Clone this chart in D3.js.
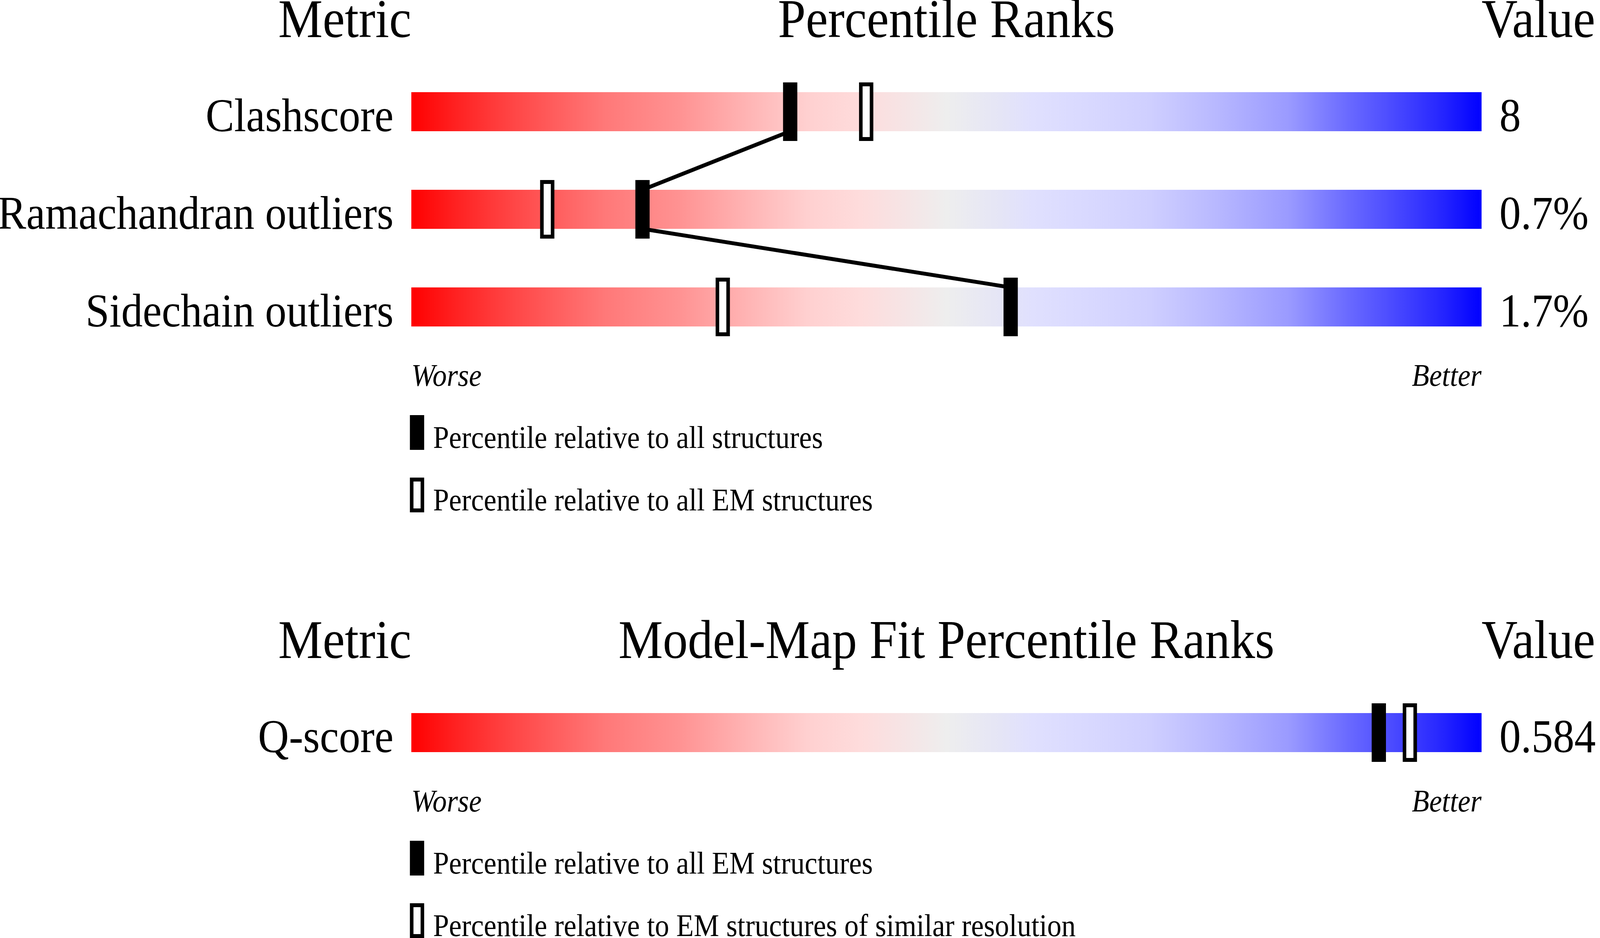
<!DOCTYPE html>
<html>
<head>
<meta charset="utf-8">
<script src="https://cdn.jsdelivr.net/npm/d3@7"></script>
<style>
  html, body { margin: 0; padding: 0; background: #fff; overflow: hidden; }
  svg { display: block; width: 100vw; height: 100vh; }
  text { font-family: "Liberation Serif", "Times New Roman", serif; fill: #000; }
</style>
</head>
<body>
<svg id="chart" viewBox="0 0 4485 2402" preserveAspectRatio="none"></svg>
<script>
// Percentile ranks panel
const metrics = ['Clashscore', 'Ramachandran outliers', 'Sidechain outliers'];
const metricValues = ['8', '0.7%', '1.7%'];
const pctAll = [35.4, 21.6, 56.0];
const pctEM = [42.5, 12.7, 29.1];
const legendLabels = ['Percentile relative to all structures', 'Percentile relative to all EM structures'];

// Model-map fit panel
const fitMetrics = ['Q-score'];
const fitValues = ['0.584'];
const fitPctAll = [90.4];
const fitPctRes = [93.3];
const fitLegendLabels = ['Percentile relative to all EM structures', 'Percentile relative to EM structures of similar resolution'];

// gradient stops for the slider bar (offset, colour)
const gradStops = [
    [0.00, '#ff0000'], [0.04, '#ff2020'], [0.08, '#ff3c3c'], [0.125, '#ff5858'],
    [0.18, '#ff7878'], [0.25, '#ff9292'], [0.31, '#ffb2b2'], [0.37, '#ffd0d0'],
    [0.42, '#fedcdc'], [0.46, '#f6e4e5'], [0.50, '#eeeeee'], [0.55, '#e5e5f6'],
    [0.58, '#e0e0fe'], [0.63, '#d9d9ff'], [0.69, '#cfcfff'], [0.75, '#b9b9ff'],
    [0.82, '#9a9aff'], [0.875, '#6a6aff'], [0.92, '#4848ff'], [0.96, '#2828ff'],
    [1.00, '#0000ff']
];

const svg = d3.select('#chart');
svg.append('rect').attr('width', 4485).attr('height', 2402).attr('fill', '#fff');

const grad = svg.append('defs').append('linearGradient')
    .attr('id', 'slider')
    .attr('x1', '0%').attr('x2', '100%').attr('y1', '0%').attr('y2', '0%');
grad.selectAll('stop')
    .data(gradStops)
    .join('stop')
    .attr('offset', d => d[0])
    .attr('stop-color', d => d[1]);

const x = d3.scaleLinear().domain([0, 100]).range([1153, 4153]);
const barH = 100;
const rowStep = 250;

function drawPanel(top, title, names, values, pA, pB, legend, connect) {
    const g = svg.append('g').attr('transform', `translate(0, ${top})`);
    const y = i => 236 + rowStep * i;

    // headers
    g.append('text').attr('x', x(0)).attr('y', 95)
        .attr('text-anchor', 'end').attr('font-size', 140).text('Metric');
    g.append('text').attr('x', (x(0) + x(100)) / 2).attr('y', 95)
        .attr('text-anchor', 'middle').attr('font-size', 140).text(title);
    g.append('text').attr('x', x(100)).attr('y', 95)
        .attr('text-anchor', 'start').attr('font-size', 140).text('Value');

    // bars
    g.selectAll('.bar')
        .data(names)
        .join('rect')
        .attr('class', 'bar')
        .attr('x', x(0))
        .attr('y', (d, i) => y(i))
        .attr('width', x(100) - x(0))
        .attr('height', barH)
        .attr('fill', 'url(#slider)');

    g.selectAll('.name')
        .data(names)
        .join('text')
        .attr('class', 'name')
        .attr('x', x(0) - 50)
        .attr('y', (d, i) => y(i) + barH)
        .attr('text-anchor', 'end')
        .attr('font-size', 120)
        .text(d => d);

    g.selectAll('.val')
        .data(values)
        .join('text')
        .attr('class', 'val')
        .attr('x', x(100) + 50)
        .attr('y', (d, i) => y(i) + barH)
        .attr('font-size', 120)
        .text(d => d);

    // line joining the filled markers
    if (connect && pA.length > 1) {
        for (let i = 0; i < pA.length - 1; i++) {
            g.append('line')
                .attr('x1', x(pA[i])).attr('y1', y(i) + barH)
                .attr('x2', x(pA[i + 1])).attr('y2', y(i + 1))
                .attr('stroke', '#000')
                .attr('stroke-width', 10);
        }
    }

    // hollow markers
    g.selectAll('.mB')
        .data(pB)
        .join('rect')
        .attr('class', 'mB')
        .attr('x', d => x(d) - 15)
        .attr('y', (d, i) => y(i) - 20)
        .attr('width', 30)
        .attr('height', barH + 40)
        .attr('fill', '#fff')
        .attr('stroke', '#000')
        .attr('stroke-width', 10);

    // filled markers
    g.selectAll('.mA')
        .data(pA)
        .join('rect')
        .attr('class', 'mA')
        .attr('x', d => x(d) - 15)
        .attr('y', (d, i) => y(i) - 20)
        .attr('width', 30)
        .attr('height', barH + 40)
        .attr('fill', '#000')
        .attr('stroke', '#000')
        .attr('stroke-width', 10);

    const last = y(names.length - 1) + barH;

    g.append('text').attr('x', x(0)).attr('y', last + 152)
        .attr('font-size', 80).attr('font-style', 'italic').text('Worse');
    g.append('text').attr('x', x(100)).attr('y', last + 152)
        .attr('text-anchor', 'end')
        .attr('font-size', 80).attr('font-style', 'italic').text('Better');

    // legend
    legend.forEach((label, i) => {
        const ly = last + 227 + 160 * i;
        g.append('rect')
            .attr('x', 1154).attr('y', ly + 5)
            .attr('width', 30).attr('height', 79)
            .attr('fill', i === 0 ? '#000' : '#fff')
            .attr('stroke', '#000')
            .attr('stroke-width', 10);
        g.append('text')
            .attr('x', 1214).attr('y', ly + 84)
            .attr('font-size', 80)
            .text(label);
    });
}

drawPanel(0, 'Percentile Ranks', metrics, metricValues, pctAll, pctEM, legendLabels, true);
drawPanel(1590, 'Model-Map Fit Percentile Ranks', fitMetrics, fitValues, fitPctAll, fitPctRes, fitLegendLabels, false);
</script>
</body>
</html>
